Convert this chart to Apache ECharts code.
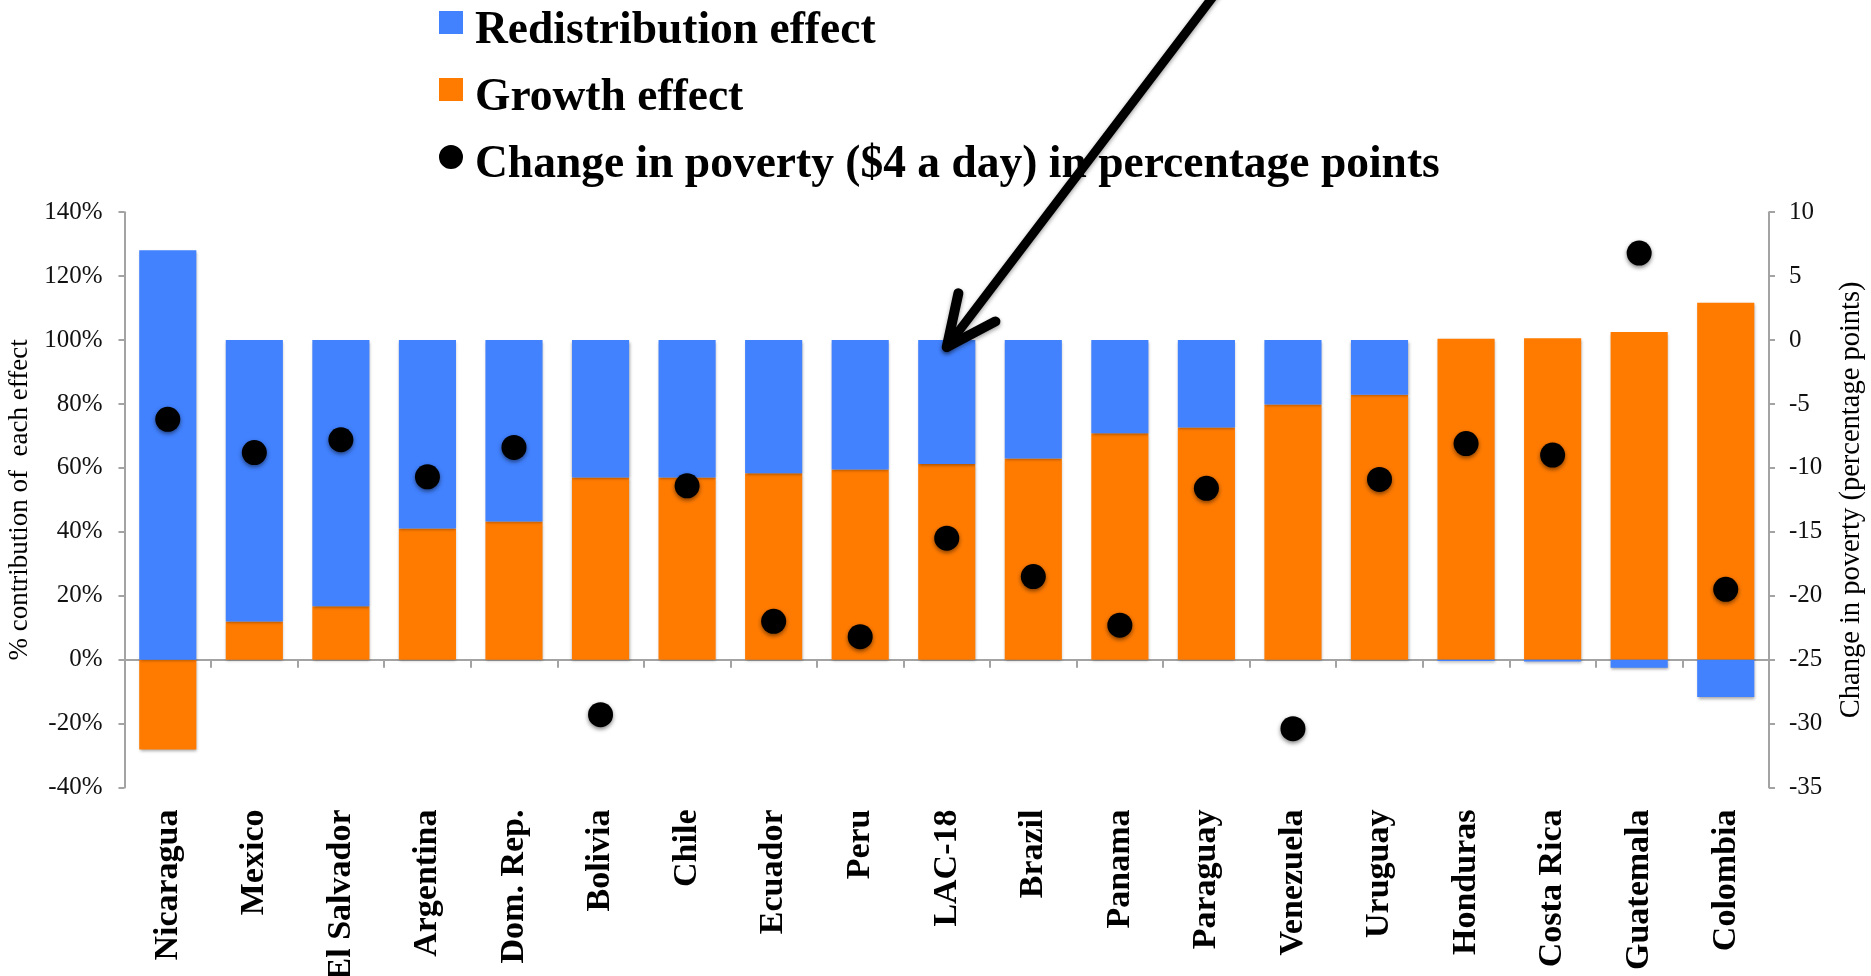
<!DOCTYPE html>
<html>
<head>
<meta charset="utf-8">
<script src="https://cdn.jsdelivr.net/npm/echarts@6/dist/echarts.min.js"></script>
<style>
html,body{margin:0;padding:0;background:#fff;}
#chart{width:1871px;height:976px;}
</style>
</head>
<body>
<div id="chart"></div>
<script>
const categories = ['Nicaragua','Mexico','El Salvador','Argentina','Dom. Rep.','Bolivia','Chile','Ecuador','Peru','LAC-18','Brazil','Panama','Paraguay','Venezuela','Uruguay','Honduras','Costa Rica','Guatemala','Colombia'];
const growthEffect = [-28.1, 11.9, 16.7, 41.0, 43.2, 57.0, 57.0, 58.3, 59.5, 61.2, 62.9, 70.8, 72.6, 79.8, 82.9, 100.4, 100.6, 102.5, 111.7];
const redistributionEffect = [128.1, 88.1, 83.3, 59.0, 56.8, 43.0, 43.0, 41.7, 40.5, 38.8, 37.1, 29.2, 27.4, 20.2, 17.1, -0.4, -0.6, -2.5, -11.7];
const povertyChange = [-6.2, -8.8, -7.8, -10.7, -8.4, -29.3, -11.4, -22.0, -23.2, -15.5, -18.5, -22.3, -11.6, -30.4, -10.9, -8.1, -9.0, 6.8, -19.5];
const leftTicks = {min: -40, max: 140, interval: 20};
const rightTicks = {min: -35, max: 10, interval: 5};
const names = {
  redistribution: 'Redistribution effect',
  growth: 'Growth effect',
  poverty: 'Change in poverty ($4 a day) in percentage points',
  leftAxis: '% contribution of  each effect',
  rightAxis: 'Change in poverty (percentage points)',
  highlighted: 'LAC-18'
};

const BLUE = '#4282FF', ORANGE = '#FF7B00', AXIS = '#a3a3a3';
const SERIF = '"Liberation Serif", "DejaVu Serif", serif';
// legend icons sit in the upper part of the item box (text is centred lower)
const ICON_SQUARE = 'path://M0,0h24v23h-24Z M0,41h0.01v0.01h-0.01Z';
const ICON_DOT = 'path://M12,0A12,12,0,1,1,12,24A12,12,0,1,1,12,0Z M0,41h0.01v0.01h-0.01Z';

const chart = echarts.init(document.getElementById('chart'), null, {renderer: 'canvas'});
const barShadow = {shadowBlur: 3, shadowColor: 'rgba(0,0,0,0.35)', shadowOffsetY: 1.5, shadowOffsetX: 0.5};

chart.setOption({
  animation: false,
  backgroundColor: '#fff',
  grid: {left: 124.5, right: 102, top: 212.2, bottom: 188.5, containLabel: false, outerBoundsMode: 'none'},
  legend: {
    orient: 'vertical', left: 439, top: 8.5, itemGap: 21, padding: 0,
    itemWidth: 24, itemHeight: 41,
    data: [
      {name: names.redistribution, icon: ICON_SQUARE},
      {name: names.growth, icon: ICON_SQUARE},
      {name: names.poverty, icon: ICON_DOT}
    ],
    textStyle: {fontFamily: SERIF, fontWeight: 'bold', fontSize: 45.5, color: '#000', lineHeight: 44, padding: [0, 0, 0, 7]},
    selectedMode: false
  },
  xAxis: [
    {
      type: 'category', data: categories, boundaryGap: true,
      axisLine: {onZero: true, onZeroAxisIndex: 0, lineStyle: {color: AXIS, width: 2}},
      axisTick: {show: true, length: 8, inside: false, lineStyle: {color: AXIS, width: 2}},
      axisLabel: {show: false}, splitLine: {show: false}
    },
    {
      type: 'category', data: categories, position: 'bottom', boundaryGap: true,
      axisLine: {show: false, onZero: false}, axisTick: {show: false},
      axisLabel: {show: true, rotate: 90, margin: 22, interval: 0,
        fontFamily: SERIF, fontWeight: 'bold', fontSize: 34, color: '#000'},
      splitLine: {show: false}
    }
  ],
  yAxis: [
    {
      type: 'value', position: 'left', min: leftTicks.min, max: leftTicks.max, interval: leftTicks.interval,
      name: names.leftAxis, nameLocation: 'middle', nameRotate: 90, nameGap: 84,
      nameTextStyle: {fontFamily: SERIF, fontSize: 27, color: '#000'},
      axisLine: {show: true, lineStyle: {color: AXIS, width: 2}},
      axisTick: {show: true, length: 6, lineStyle: {color: AXIS, width: 2}},
      axisLabel: {formatter: '{value}%', margin: 22, fontFamily: SERIF, fontSize: 25, color: '#111'},
      splitLine: {show: false}
    },
    {
      type: 'value', position: 'right', min: rightTicks.min, max: rightTicks.max, interval: rightTicks.interval,
      name: names.rightAxis, nameLocation: 'middle', nameRotate: 90, nameGap: 68,
      nameTextStyle: {fontFamily: SERIF, fontSize: 28.5, color: '#000', verticalAlign: 'top'},
      axisLine: {show: true, lineStyle: {color: AXIS, width: 2}},
      axisTick: {show: true, length: 6, lineStyle: {color: AXIS, width: 2}},
      axisLabel: {margin: 20, fontFamily: SERIF, fontSize: 25, color: '#111'},
      splitLine: {show: false}
    }
  ],
  series: [
    {
      name: names.growth, type: 'bar', stack: 'effects', xAxisIndex: 0, yAxisIndex: 0,
      barWidth: '66%', data: growthEffect,
      itemStyle: Object.assign({color: ORANGE}, barShadow), z: 2
    },
    {
      name: names.redistribution, type: 'bar', stack: 'effects', xAxisIndex: 0, yAxisIndex: 0,
      barWidth: '66%', data: redistributionEffect,
      itemStyle: Object.assign({color: BLUE}, barShadow), z: 2
    },
    {
      name: names.poverty, type: 'scatter', xAxisIndex: 0, yAxisIndex: 1,
      symbol: 'circle', symbolSize: 25, data: povertyChange,
      itemStyle: {color: '#000', opacity: 1, shadowBlur: 4, shadowColor: 'rgba(0,0,0,0.5)', shadowOffsetY: 2},
      z: 5
    }
  ]
});

// Annotation arrow pointing at the highlighted category's bar top
function drawArrow() {
  const tip = chart.convertToPixel({xAxisIndex: 0, yAxisIndex: 0}, [names.highlighted, 100]);
  const tx = tip[0], ty = tip[1] + 7;
  const ratio = 0.76; // dx per dy of shaft
  const endY = -20;
  const endX = tx + ratio * (ty - endY);
  const ang = Math.atan2(-(ty - endY), endX - tx);
  const armLen = 55, spread = 25 * Math.PI / 180;
  const a1 = [tx + armLen * Math.cos(ang - spread), ty + armLen * Math.sin(ang - spread)];
  const a2 = [tx + armLen * Math.cos(ang + spread), ty + armLen * Math.sin(ang + spread)];
  chart.setOption({
    graphic: [
      {type: 'line', z: 100, shape: {x1: tx, y1: ty, x2: endX, y2: endY},
        style: {stroke: '#000', lineWidth: 9, lineCap: 'round', shadowBlur: 4, shadowColor: 'rgba(0,0,0,0.4)', shadowOffsetY: 2}},
      {type: 'polyline', z: 100, shape: {points: [a1, [tx, ty], a2]},
        style: {stroke: '#000', fill: null, lineWidth: 10, lineCap: 'round', lineJoin: 'round', shadowBlur: 4, shadowColor: 'rgba(0,0,0,0.4)', shadowOffsetY: 2}}
    ]
  });
}
drawArrow();
</script>
</body>
</html>
